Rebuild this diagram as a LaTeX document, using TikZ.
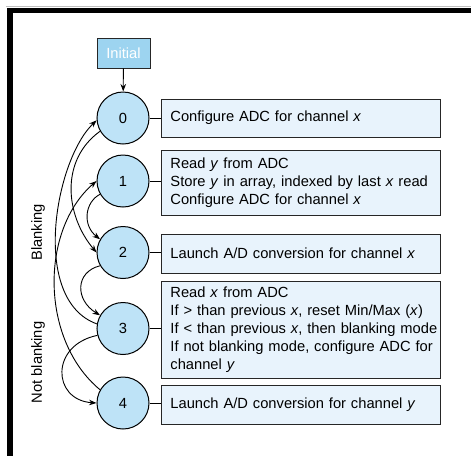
\documentclass[tikz,border=0pt]{standalone}
\usepackage{fontspec}
\setmainfont{Liberation Sans}
\usetikzlibrary{arrows.meta}
\definecolor{circfill}{HTML}{BEE3F7}
\definecolor{boxfill}{HTML}{E8F3FC}
\definecolor{initfill}{HTML}{9DD4F0}
\begin{document}
\begin{tikzpicture}[x=1pt,y=-1pt,
  every node/.style={font=\fontsize{14.7}{18}\selectfont},
  st/.style={circle,draw,line width=1pt,fill=circfill,minimum size=52pt,inner sep=0pt},
  act/.style={draw=black!85,line width=0.9pt,fill=boxfill,anchor=west,minimum width=279pt,text width=261pt,inner xsep=9pt,inner ysep=0pt,align=left},
  arr/.style={-{Stealth[length=7.5pt,width=5.5pt]},line width=0.9pt},
  link/.style={line width=0.9pt}]
\useasboundingbox (0,0) rectangle (471,456);
\fill[white] (0,0) rectangle (471,456);
\draw[gray!50,line width=1pt] (6,6.5) -- (471,6.5);
\fill[black] (7,7.5) rectangle (471,13);
\fill[black] (7,7.5) rectangle (12.5,456);

\node[draw=black!85, fill=initfill, text=white, minimum width=53pt, minimum height=30pt, inner sep=0pt, line width=0.9pt] (init) at (123.5,53) {Initial};

\node[st] (c0) at (123,118) {0};
\node[st] (c1) at (123,181) {1};
\node[st] (c2) at (123,252.5) {2};
\node[st] (c3) at (123,328.5) {3};
\node[st] (c4) at (123,403) {4};

\node[act,minimum height=38pt] (b0) at (161,118) {\mbox{Configure ADC for channel \textit{x}}};
\node[act,minimum height=65pt] (b1) at (161,182.5) {\mbox{Read \textit{y} from ADC}\\\mbox{Store \textit{y} in array, indexed by last \textit{x} read}\\\mbox{Configure ADC for channel \textit{x}}};
\node[act,minimum height=39pt] (b2) at (161,253.5) {\mbox{Launch A/D conversion for channel \textit{x}}};
\node[act,minimum height=97pt] (b3) at (161,329.5) {\mbox{Read \textit{x} from ADC}\\\mbox{If > than previous \textit{x}, reset Min/Max (\textit{x})}\\\mbox{If < than previous \textit{x}, then blanking mode}\\\mbox{If not blanking mode, configure ADC for}\\\mbox{channel \textit{y}}};
\node[act,minimum height=39pt] (b4) at (161,404.5) {\mbox{Launch A/D conversion for channel \textit{y}}};

\draw[link] (c0.east) -- (c0.east -| b0.west);
\draw[link] (c1.east) -- (c1.east -| b1.west);
\draw[link] (c2.east) -- (c2.east -| b2.west);
\draw[link] (c3.east) -- (c3.east -| b3.west);
\draw[link] (c4.east) -- (c4.east -| b4.west);

\draw[arr] (init) -- (c0);
\draw[arr] (c0.210) .. controls (60,160) and (65,215) .. (c2.180);
\draw[arr] (c1.210) .. controls (85,202) and (82,225) .. (c2.150);
\draw[arr] (c2.210) .. controls (75,272) and (75,300) .. (c3.150);
\draw[arr] (c3.195) .. controls (50,345) and (52,400) .. (c4.180);
\draw[arr] (c3.170) .. controls (30,300) and (55,160) .. (c0.185);
\draw[arr] (c4.150) .. controls (40,340) and (40,230) .. (c1.180);

\node[rotate=90] (lb) at (38,232.5) {Blanking};
\node[rotate=90] (lnb) at (38,362.5) {Not blanking};
\end{tikzpicture}
\end{document}
